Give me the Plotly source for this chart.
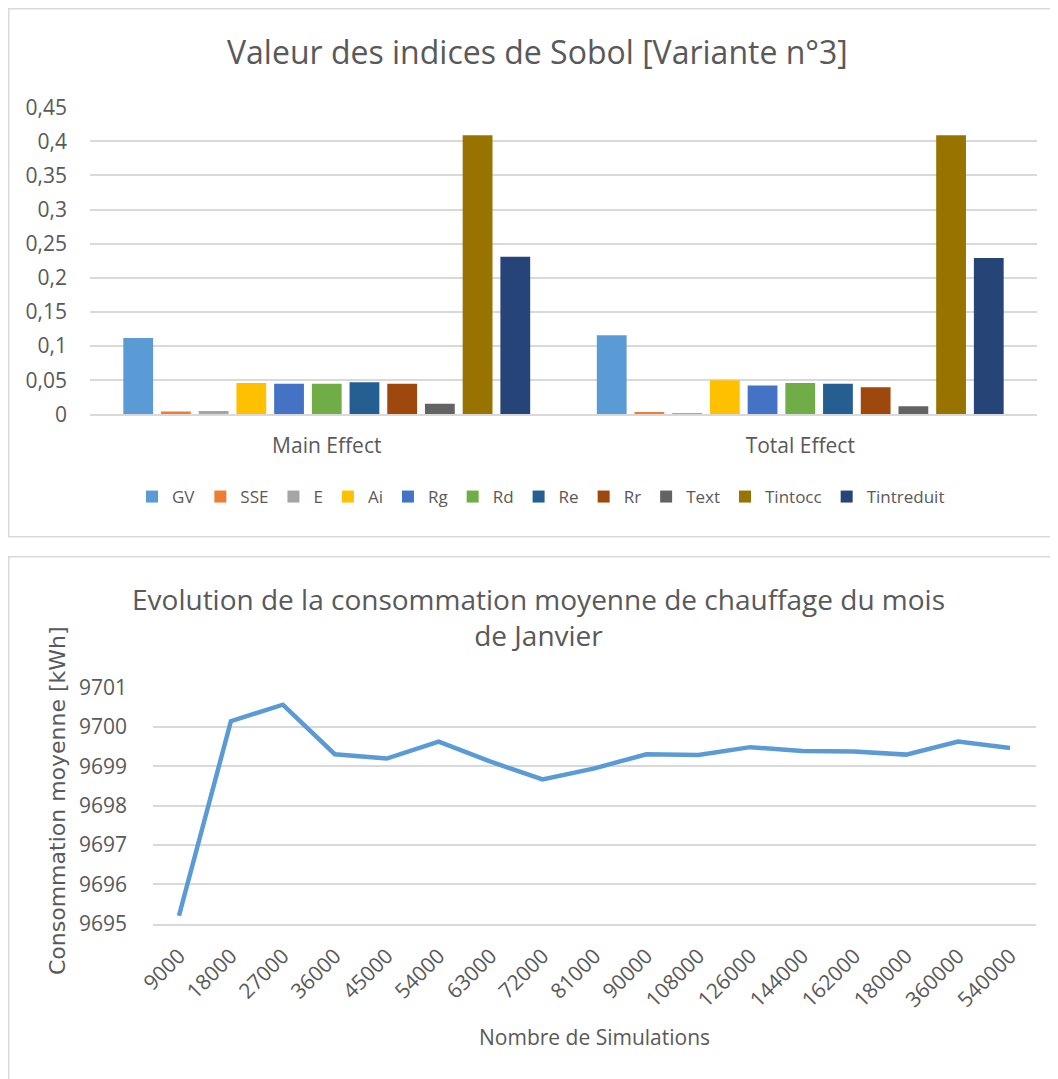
import plotly.graph_objects as go

# the page body has an 8px margin, so the figure is drawn 8px in from the corner
OFF = 8
W, H = 1058 - OFF, 1079 - OFF
TXT = "#595959"
GRID = "#D9D9D9"
FONT = "Open Sans, sans-serif"

# --- chart 1 : Sobol indices ---
effects = ["Main Effect", "Total Effect"]
params = ["GV", "SSE", "E", "Ai", "Rg", "Rd", "Re", "Rr", "Text", "Tintocc", "Tintreduit"]
main_effect = [0.112, 0.0044, 0.005, 0.046, 0.045, 0.045, 0.047, 0.045, 0.0155, 0.409, 0.231]
total_effect = [0.116, 0.0034, 0.002, 0.050, 0.0425, 0.046, 0.045, 0.0396, 0.012, 0.409, 0.229]
param_colors = ["#5B9BD5", "#ED7D31", "#A5A5A5", "#FFC000", "#4472C4", "#70AD47",
                "#255E91", "#9E480E", "#636363", "#997300", "#264478"]

# --- chart 2 : convergence of mean consumption ---
n_simulations = ["9000", "18000", "27000", "36000", "45000", "54000", "63000", "72000",
                 "81000", "90000", "108000", "126000", "144000", "162000", "180000",
                 "360000", "540000"]
mean_consumption = [9695.20, 9700.15, 9700.57, 9699.31, 9699.20, 9699.63, 9699.12, 9698.67,
                    9698.95, 9699.31, 9699.29, 9699.49, 9699.39, 9699.38, 9699.30,
                    9699.63, 9699.47]


def px_x(v):
    return (v - OFF) / W


def px_y(v):
    return 1 - (v - OFF) / H


fig = go.Figure()

for i, p in enumerate(params):
    fig.add_trace(go.Bar(
        x=effects,
        y=[main_effect[i], total_effect[i]],
        name=p,
        marker=dict(color=param_colors[i], line=dict(width=0)),
        xaxis="x", yaxis="y",
    ))

fig.add_trace(go.Scatter(
    x=n_simulations,
    y=mean_consumption,
    mode="lines",
    line=dict(color="#5B9BD5", width=4.5),
    showlegend=False,
    xaxis="x2", yaxis="y2",
))

fig.update_layout(
    width=W, height=H,
    autosize=False,
    margin=dict(l=0, r=0, t=0, b=0, pad=0, autoexpand=False),
    paper_bgcolor="white",
    plot_bgcolor="white",
    separators=", ",
    font=dict(family=FONT, size=21, color=TXT),
    barmode="group",
    bargap=0.124,
    bargroupgap=0.21,
    xaxis=dict(
        domain=[px_x(90), px_x(1037)],
        anchor="y", automargin=False,
        showgrid=False,
        showline=True, linecolor=GRID, linewidth=1.5,
        ticks="", ticklabelstandoff=12,
    ),
    yaxis=dict(
        domain=[px_y(414.4), px_y(107.2)],
        anchor="x", automargin=False,
        range=[0, 0.45], dtick=0.05,
        showgrid=True, gridcolor=GRID, gridwidth=1.5,
        zeroline=False, showline=False,
        ticks="", ticklabelstandoff=22,
    ),
    xaxis2=dict(
        domain=[px_x(153), px_x(1036)],
        anchor="y2", automargin=False,
        type="category",
        range=[-0.5, 16.5],
        showgrid=False,
        showline=True, linecolor=GRID, linewidth=1.5,
        ticks="", tickangle=-45, ticklabelstandoff=10,
    ),
    yaxis2=dict(
        domain=[px_y(923.6), px_y(687.8)],
        anchor="x2", automargin=False,
        range=[9695, 9701], dtick=1,
        showgrid=True, gridcolor=GRID, gridwidth=1.5,
        zeroline=False, showline=False,
        ticks="", ticklabelstandoff=25,
    ),
    legend=dict(
        orientation="h",
        x=px_x(541), xanchor="center",
        y=px_y(497), yanchor="middle",
        font=dict(size=17, color=TXT),
        itemwidth=30,
        tracegroupgap=0,
    ),
    annotations=[
        dict(text="Valeur des indices de Sobol [Variante n°3]",
             x=px_x(537), y=px_y(52), xref="paper", yref="paper",
             xanchor="center", yanchor="middle",
             showarrow=False, font=dict(size=32, color=TXT)),
        dict(text="Evolution de la consommation moyenne de chauffage du mois<br>de Janvier",
             x=px_x(538), y=px_y(617), xref="paper", yref="paper",
             xanchor="center", yanchor="middle",
             showarrow=False, font=dict(size=28, color=TXT)),
        dict(text="Consommation moyenne [kWh]",
             x=px_x(57), y=px_y(801), xref="paper", yref="paper",
             xanchor="center", yanchor="middle", textangle=-90,
             showarrow=False,
             font=dict(family="DejaVu Sans, sans-serif", size=22, color=TXT)),
        dict(text="Nombre de Simulations",
             x=px_x(594), y=px_y(1036.5), xref="paper", yref="paper",
             xanchor="center", yanchor="middle",
             showarrow=False, font=dict(size=21, color=TXT)),
    ],
    shapes=[
        dict(type="rect", xref="paper", yref="paper",
             x0=px_x(8.75), x1=1.02, y0=px_y(536.7), y1=px_y(8.75),
             line=dict(color=GRID, width=1.5)),
        dict(type="rect", xref="paper", yref="paper",
             x0=px_x(8.75), x1=1.02, y0=-0.02, y1=px_y(556.7),
             line=dict(color=GRID, width=1.5)),
    ],
)

fig.write_html("out.html")
